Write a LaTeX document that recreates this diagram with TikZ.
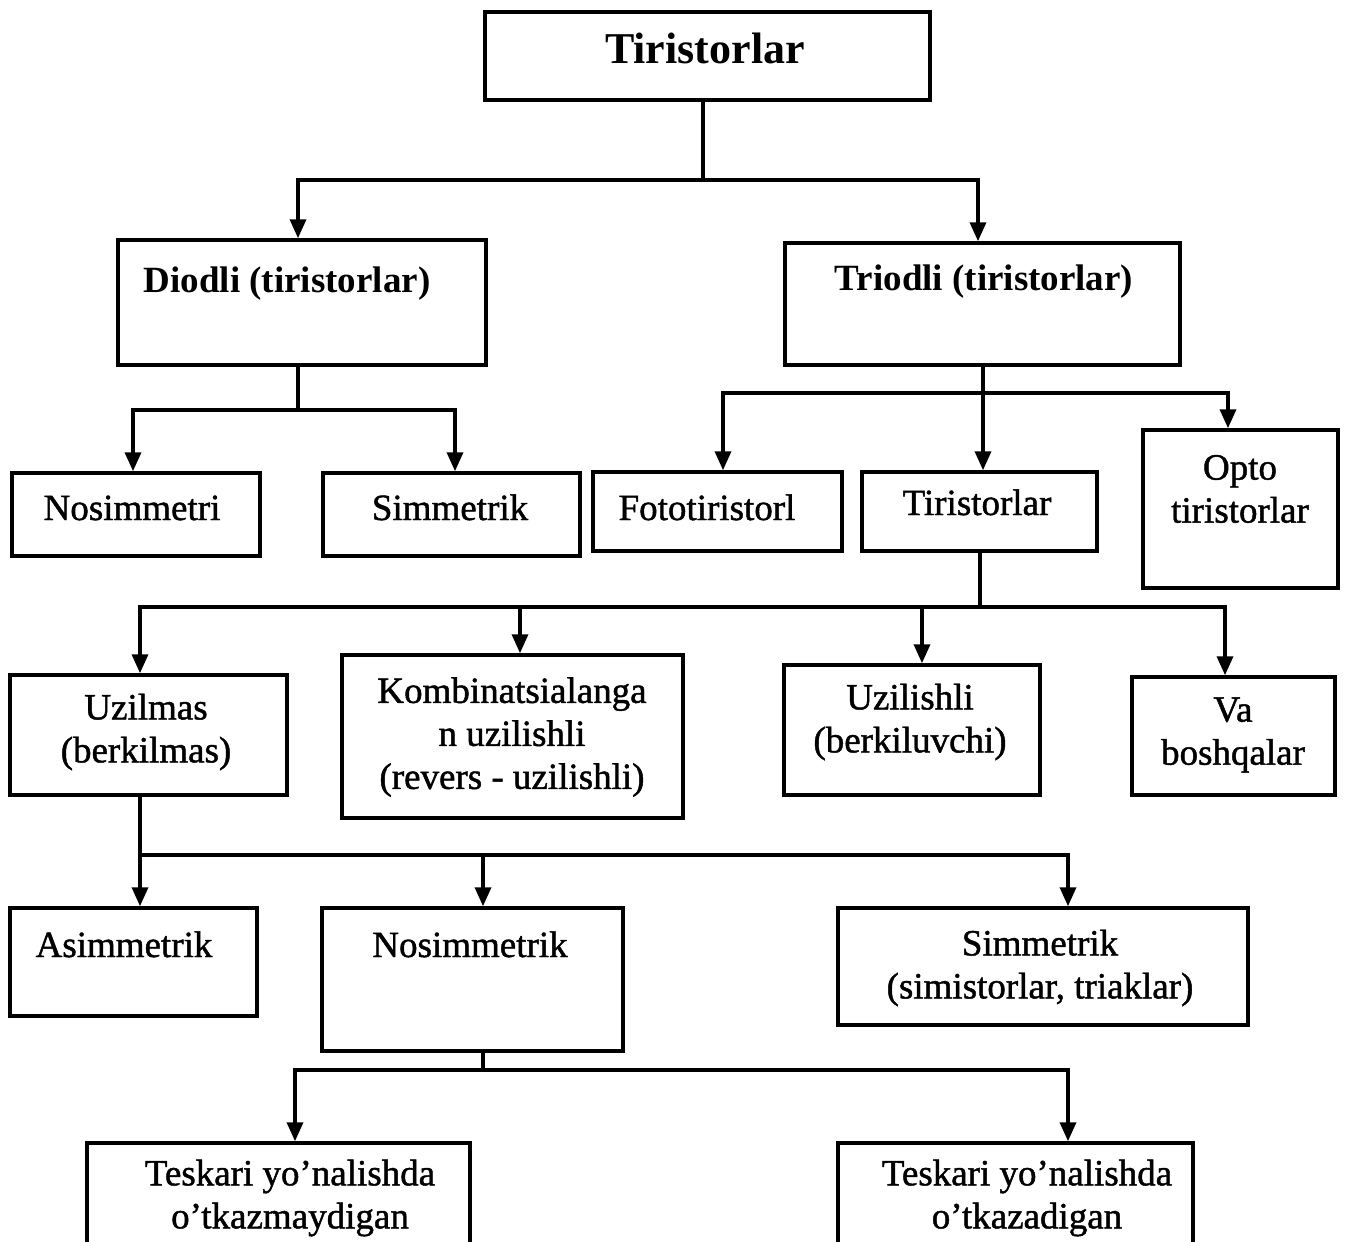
\documentclass[tikz,border=0pt]{standalone}
\usepackage{fontspec}
\setmainfont{Liberation Serif}
\newfontfamily\heavyserif[FakeBold=1.2]{Liberation Serif}
\usetikzlibrary{arrows.meta}
\begin{document}
\begin{tikzpicture}[x=1pt,y=-1pt,
  box/.style={draw, line width=3.5pt, inner sep=0pt},
  wire/.style={line width=3.5pt, line join=miter},
  arr/.style={line width=3.5pt, line join=miter, -{Triangle[width=16pt,length=19pt]}},
  lbl/.style={font=\heavyserif\fontsize{37}{43}\selectfont, align=center, inner sep=0pt},
  hdr/.style={font=\bfseries\fontsize{37}{43}\selectfont, align=center, inner sep=0pt},
]
\useasboundingbox (0,0) rectangle (1345,1242);
\clip (0,0) rectangle (1345,1242);
\fill[white] (0,0) rectangle (1345,1242);

% ---------- boxes ----------
\node[box, minimum width=445pt, minimum height=88pt]  (top)    at (707.5,56)    {};
\node[box, minimum width=368pt, minimum height=125pt] (diod)   at (302,302.5)   {};
\node[box, minimum width=395pt, minimum height=122pt] (triod)  at (982.5,304)   {};
\node[box, minimum width=248pt, minimum height=83pt]  (nosA)   at (136,514.5)   {};
\node[box, minimum width=257pt, minimum height=83pt]  (simA)   at (451.5,514.5) {};
\node[box, minimum width=249pt, minimum height=79pt]  (foto)   at (717.5,511.5) {};
\node[box, minimum width=235pt, minimum height=79pt]  (tir)    at (979.5,511.5) {};
\node[box, minimum width=195pt, minimum height=158pt] (opto)   at (1240.5,509)  {};
\node[box, minimum width=277pt, minimum height=120pt] (uzm)    at (148.5,735)   {};
\node[box, minimum width=341pt, minimum height=163pt] (komb)   at (512.5,736.5) {};
\node[box, minimum width=256pt, minimum height=130pt] (uzl)    at (912,730)     {};
\node[box, minimum width=203pt, minimum height=118pt] (va)     at (1233.5,736)  {};
\node[box, minimum width=247pt, minimum height=108pt] (asim)   at (133.5,962)   {};
\node[box, minimum width=301pt, minimum height=143pt] (nosB)   at (472.5,979.5) {};
\node[box, minimum width=410pt, minimum height=117pt] (simB)   at (1043,966.5)  {};
\node[box, minimum width=383pt, minimum height=130pt] (teskA)  at (278.5,1208)  {};
\node[box, minimum width=355pt, minimum height=130pt] (teskB)  at (1015.5,1208) {};

% ---------- labels ----------
\node[hdr, font=\bfseries\fontsize{44}{50}\selectfont, anchor=base] at (705,63) {Tiristorlar};
\node[hdr, anchor=base] at (287,292) {Diodli (tiristorlar)};
\node[hdr, anchor=base] at (984,290) {Triodli (tiristorlar)};
\node[lbl, anchor=base] at (132,520) {Nosimmetri};
\node[lbl, anchor=base] at (450,520) {Simmetrik};
\node[lbl, anchor=base] at (707,520) {Fototiristorl};
\node[lbl, anchor=base] at (977,515) {Tiristorlar};
\node[lbl] at (1240,489) {Opto\\tiristorlar};
\node[lbl] at (146,732) {Uzilmas\\(berkilmas)};
\node[lbl] at (512,737) {Kombinatsialanga\\n uzilishli\\(revers - uzilishli)};
\node[lbl] at (910,722) {Uzilishli\\(berkiluvchi)};
\node[lbl] at (1233,735) {Va\\boshqalar};
\node[lbl, anchor=base] at (124,957) {Asimmetrik};
\node[lbl, anchor=base] at (470,957) {Nosimmetrik};
\node[lbl] at (1040,968) {Simmetrik\\(simistorlar, triaklar)};
\node[lbl] at (290,1198) {Teskari yo’nalishda\\o’tkazmaydigan};
\node[lbl] at (1027,1198) {Teskari yo’nalishda\\o’tkazadigan};

% ---------- connectors ----------
% level 1
\coordinate (j1) at (703,180);
\coordinate (d1a) at (298,180);
\coordinate (d1b) at (978,180);
\draw[wire] (top.south -| j1) -- (j1);
\draw[arr] (j1) -| (d1a |- diod.north);
\draw[arr] (j1) -| (d1b |- triod.north);

% Diodli branch
\coordinate (j2) at (298,410);
\coordinate (d2a) at (133,410);
\coordinate (d2b) at (455,410);
\draw[wire] (diod.south -| j2) -- (j2);
\draw[arr] (j2) -| (d2a |- nosA.north);
\draw[arr] (j2) -| (d2b |- simA.north);

% Triodli branch
\coordinate (j3) at (983,393);
\coordinate (d3a) at (723,393);
\coordinate (d3c) at (1228,393);
\draw[arr] (triod.south -| j3) -- (j3 |- tir.north);
\draw[arr] (j3) -| (d3a |- foto.north);
\draw[arr] (j3) -| (d3c |- opto.north);

% Tiristorlar branch
\coordinate (j4) at (980,607);
\coordinate (d4a) at (140,607);
\coordinate (d4b) at (520,607);
\coordinate (d4c) at (922,607);
\coordinate (d4d) at (1225,607);
\draw[wire] (tir.south -| j4) -- (j4);
\draw[arr] (j4) -| (d4a |- uzm.north);
\draw[arr] (j4) -| (d4d |- va.north);
\draw[arr] (d4b) -- (d4b |- komb.north);
\draw[arr] (d4c) -- (d4c |- uzl.north);

% Uzilmas branch
\coordinate (j5) at (140,855);
\coordinate (d5b) at (483,855);
\coordinate (d5c) at (1068,855);
\draw[arr] (uzm.south -| j5) -- (j5 |- asim.north);
\draw[arr] (j5) -| (d5c |- simB.north);
\draw[arr] (d5b) -- (d5b |- nosB.north);

% Nosimmetrik branch
\coordinate (j6) at (483,1070);
\coordinate (d6a) at (295,1070);
\coordinate (d6b) at (1068,1070);
\draw[wire] (nosB.south -| j6) -- (j6);
\draw[arr] (j6) -| (d6a |- teskA.north);
\draw[arr] (j6) -| (d6b |- teskB.north);
\end{tikzpicture}
\end{document}
